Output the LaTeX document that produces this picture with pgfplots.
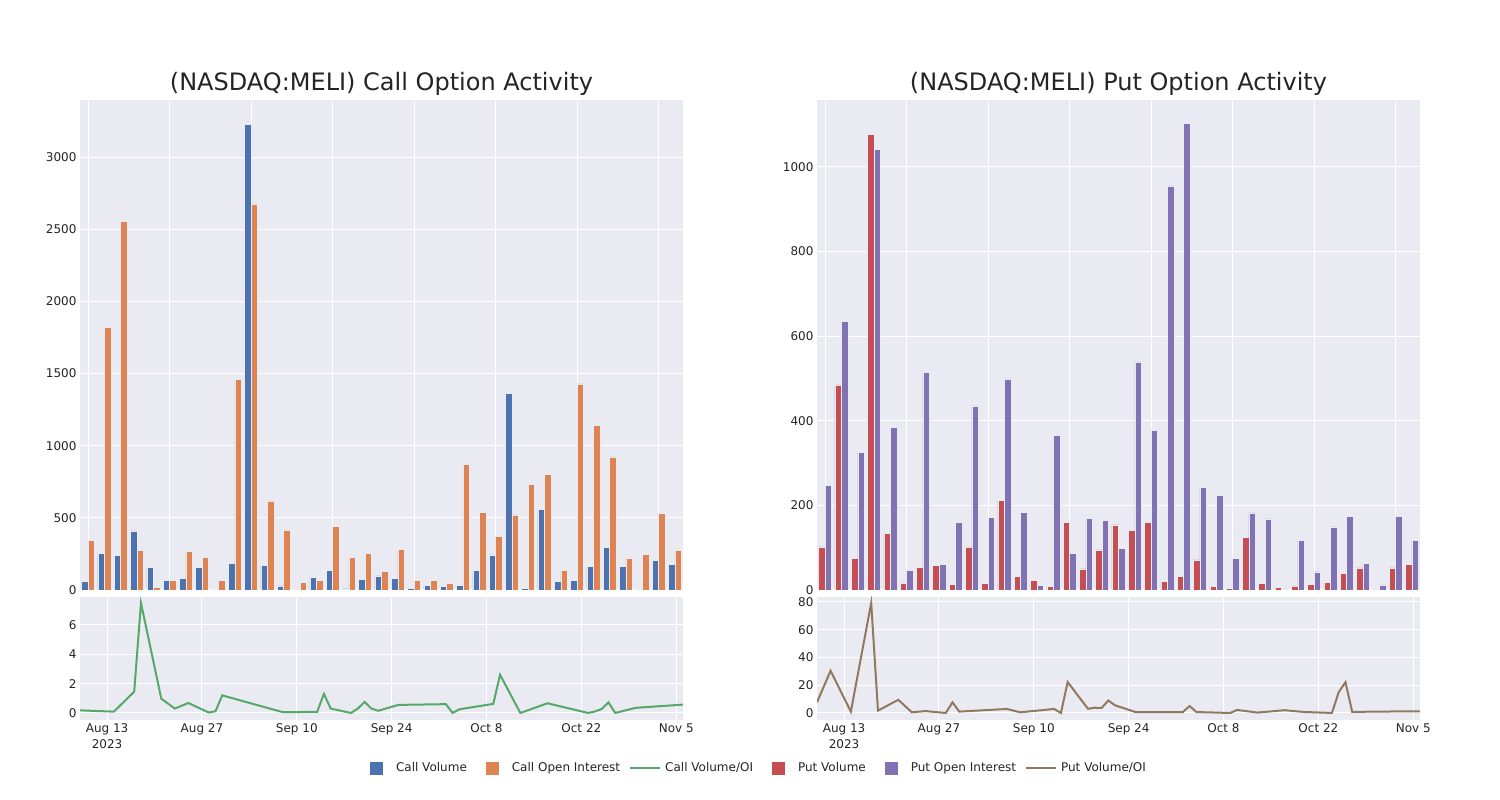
\documentclass[border=0pt]{standalone}
\usepackage{pgfplots}
\pgfplotsset{compat=1.18}
\usepackage{pgfplotstable}
\usepackage{fontspec}
\setmainfont{DejaVu Sans}
\definecolor{bgc}{HTML}{EAEAF2}
\definecolor{txt}{HTML}{242424}
\definecolor{cvol}{HTML}{4C72B0}
\definecolor{coi}{HTML}{DD8452}
\definecolor{crat}{HTML}{55A868}
\definecolor{pvol}{HTML}{C44E52}
\definecolor{poi}{HTML}{8172B3}
\definecolor{prat}{HTML}{937860}

% call volume / open interest by trading day (category index)
\pgfplotstableread{
i vol oi
0 62 344
1 252 1818
2 238 2555
3 409 275
4 155 18
5 67 67
6 83 270
7 155 224
8 4 65
9 182 1460
10 3225 2675
11 169 617
12 28 416
13 5 51
14 88 65
15 134 443
16 7 224
17 76 252
18 97 127
19 83 280
20 9 65
21 32 65
22 25 44
23 32 871
24 134 536
25 243 370
26 1361 520
27 12 732
28 557 802
29 60 134
30 65 1428
31 166 1141
32 293 922
33 162 217
34 5 247
35 206 533
36 180 272
}\calltab

% put volume / open interest
\pgfplotstableread{
i vol oi
0 102 247
1 485 634
2 75 326
3 1076 1041
4 134 384
5 17 46
6 54 514
7 58 61
8 13 160
9 102 435
10 16 171
11 211 499
12 32 184
13 23 11
14 9 365
15 160 87
16 50 169
17 95 164
18 154 98
19 141 539
20 160 378
21 20 955
22 32 1102
23 71 242
24 9 224
25 3 75
26 124 182
27 15 168
28 6 2
29 10 117
30 14 43
31 18 149
32 40 174
33 52 63
34 1 12
35 52 174
36 61 117
}\puttab

% volume/OI ratios, d = days since Aug 13 2023
\pgfplotstableread{
d cr pr
-4 0.18 7.7
-2 0.14 30.4
1 0.09 1.0
4 1.45 79.3
5 7.5 1.7
8 0.97 9.5
10 0.30 0.5
12 0.68 1.4
15 0.03 0.0
16 0.12 7.7
17 1.20 1.0
24 0.30 2.9
26 0.05 0.5
31 0.08 2.9
32 1.30 0.0
33 0.30 22.3
36 0.00 3.0
37 0.30 3.8
38 0.75 3.6
39 0.30 9.0
40 0.15 5.5
43 0.55 0.7
50 0.60 0.7
51 0.00 5.0
52 0.25 0.7
57 0.62 0.0
58 2.60 2.2
61 0.00 0.3
65 0.66 2.0
68 0.33 0.7
71 0.00 0.2
72 0.10 0.0
73 0.27 15.0
74 0.72 22.2
75 0.00 0.7
78 0.35 1.0
85 0.57 1.2
}\ratiotab

\pgfplotsset{
  panel/.style={
    scale only axis, width=603pt,
    axis background/.style={fill=bgc},
    axis line style={draw=none},
    major tick length=0pt,
    grid=major,
    major grid style={draw=white, line width=1pt},
    tick label style={font=\fontsize{12}{16}\selectfont, text=txt},
    /pgf/number format/assume math mode=true,
    /pgf/number format/set thousands separator={},
  },
  barpanel/.style={panel, height=490pt, xmin=-0.5, xmax=36.5, ymin=0,
    xtick={0,5,...,35}, xticklabels={}},
  linepanel/.style={panel, height=123pt, xmin=-4, xmax=85,
    xtick={0,14,28,42,56,70,84},
    xticklabels={{Aug 13\\2023},{Aug 27},{Sep 10},{Sep 24},{Oct 8},{Oct 22},{Nov 5}},
    xticklabel style={align=center}},
  sqimg/.style={legend image code/.code={\path[draw=none,fill=none] (0pt,0pt) rectangle (40pt,1pt);\fill[#1] (14pt,-6pt) rectangle (26pt,6pt);}},
  lnimg/.style={legend image code/.code={\path[draw=none,fill=none] (0pt,0pt) rectangle (40pt,1pt);\draw[#1, line width=2pt] (5pt,0pt) -- (35pt,0pt);}},
}

\begin{document}
\begin{tikzpicture}[x=1pt,y=1pt]
\path (0,0) rectangle (1500,800);

\node[font=\fontsize{24}{28}\selectfont, text=txt] at (381.5,716) {(NASDAQ:MELI) Call Option Activity};
\node[font=\fontsize{24}{28}\selectfont, text=txt] at (1118.5,716) {(NASDAQ:MELI) Put Option Activity};

% ---- Call bars
\begin{axis}[barpanel, at={(80pt,210pt)}, anchor=south west, ymax=3395, ytick={0,500,...,3000}]
\addplot[ybar, bar width=0.4, bar shift=-0.2, fill=cvol, draw=bgc, line width=0.5pt] table[x=i, y=vol] {\calltab};
\addplot[ybar, bar width=0.4, bar shift=0.2, fill=coi, draw=bgc, line width=0.5pt] table[x=i, y=oi] {\calltab};
\end{axis}

% ---- Call ratio
\begin{axis}[linepanel, at={(80pt,80pt)}, anchor=south west, ymin=-0.48, ymax=7.91, ytick={0,2,4,6}]
\addplot[crat, line width=2pt, no marks] table[x=d, y=cr] {\ratiotab};
\end{axis}

% ---- Put bars
\begin{axis}[barpanel, at={(817pt,210pt)}, anchor=south west, ymax=1158, ytick={0,200,...,1000}]
\addplot[ybar, bar width=0.4, bar shift=-0.2, fill=pvol, draw=bgc, line width=0.5pt] table[x=i, y=vol] {\puttab};
\addplot[ybar, bar width=0.4, bar shift=0.2, fill=poi, draw=bgc, line width=0.5pt] table[x=i, y=oi] {\puttab};
\end{axis}

% ---- Put ratio + legend
\begin{axis}[linepanel, at={(817pt,80pt)}, anchor=south west, ymin=-5.05, ymax=83.6, ytick={0,20,...,80},
  legend columns=6,
  legend style={at={(-0.1095,-0.39)}, anchor=center, draw=none, fill=none,
    font=\fontsize{12}{14}\selectfont, text=txt, inner sep=0pt,
    nodes={inner sep=0pt},
    /tikz/every even column/.append style={column sep=5pt}},
]
\addlegendimage{sqimg=cvol}\addlegendentry{Call Volume}
\addlegendimage{sqimg=coi}\addlegendentry{Call Open Interest}
\addlegendimage{lnimg=crat}\addlegendentry{Call Volume/OI}
\addlegendimage{sqimg=pvol}\addlegendentry{Put Volume}
\addlegendimage{sqimg=poi}\addlegendentry{Put Open Interest}
\addlegendimage{lnimg=prat}\addlegendentry{Put Volume/OI}
\addplot[prat, line width=2pt, no marks, forget plot] table[x=d, y=pr] {\ratiotab};
\end{axis}
\end{tikzpicture}
\end{document}
